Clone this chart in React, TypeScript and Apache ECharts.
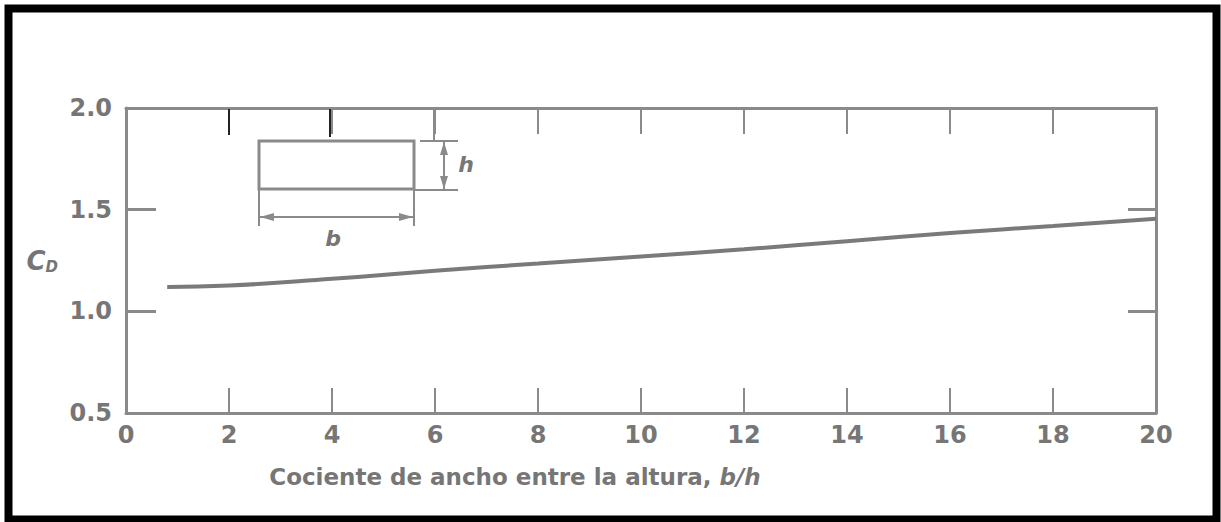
import React, { useEffect, useRef } from "react";
import * as echarts from "echarts";

const ratioBH: number[] = [0.8, 2, 4, 6, 8, 10, 12, 14, 16, 18, 20];
const cdValues: number[] = [1.12, 1.127, 1.16, 1.2, 1.235, 1.27, 1.305, 1.345, 1.385, 1.42, 1.455];
const xTicks: number[] = [0, 2, 4, 6, 8, 10, 12, 14, 16, 18, 20];
const yTicks: number[] = [0.5, 1.0, 1.5, 2.0];

const AX = "#8a8a8a";
const TXT = "#767676";
const FONT = "DejaVu Sans";

export default function App() {
  const ref = useRef<HTMLDivElement>(null);
  useEffect(() => {
    if (!ref.current) return;
    const chart = echarts.init(ref.current, null, { renderer: "svg" });
    const data = ratioBH.map((x, i) => [x, cdValues[i]]);
    const axisLine = { show: true, onZero: false, lineStyle: { color: AX, width: 3 } };
    chart.setOption({
      animation: false,
      backgroundColor: "#ffffff",
      grid: { left: 126, right: 65, top: 108, bottom: 109 },
      xAxis: [
        {
          type: "value",
          position: "bottom",
          min: xTicks[0],
          max: xTicks[xTicks.length - 1],
          interval: 2,
          axisLine,
          axisTick: { show: true, inside: true, length: 25, lineStyle: { color: AX, width: 2 } },
          axisLabel: { color: TXT, fontSize: 24, fontFamily: FONT, fontWeight: "bold", margin: 10 },
          splitLine: { show: false },
          name: "{t|Cociente de ancho entre la altura, }{i|b/h}",
          nameLocation: "middle",
          nameGap: 52,
          nameTextStyle: {
            padding: [0, 252, 0, 0],
            rich: {
              t: { color: TXT, fontSize: 23, fontFamily: FONT, fontWeight: "bold" },
              i: { color: TXT, fontSize: 23, fontFamily: FONT, fontStyle: "italic", fontWeight: "bold" },
            },
          },
        },
        {
          type: "value",
          position: "top",
          min: xTicks[0],
          max: xTicks[xTicks.length - 1],
          interval: 2,
          axisLine,
          axisTick: { show: true, inside: true, length: 26, lineStyle: { color: AX, width: 2 } },
          axisLabel: { show: false },
          splitLine: { show: false },
        },
      ],
      yAxis: [
        {
          type: "value",
          position: "left",
          min: yTicks[0],
          max: yTicks[yTicks.length - 1],
          interval: 0.5,
          axisLine,
          axisTick: { show: true, inside: true, length: 30, lineStyle: { color: AX, width: 3 } },
          axisLabel: {
            color: TXT,
            fontSize: 24,
            fontFamily: FONT,
            fontWeight: "bold",
            margin: 14,
            formatter: (v: number) => v.toFixed(1),
          },
          splitLine: { show: false },
          name: "{c|C}{d|D}",
          nameLocation: "middle",
          nameRotate: 0,
          nameGap: 68,
          nameTextStyle: {
            rich: {
              c: { color: TXT, fontSize: 26, fontFamily: FONT, fontStyle: "italic", fontWeight: "bold" },
              d: { color: TXT, fontSize: 15, fontFamily: FONT, fontStyle: "italic", fontWeight: "bold", padding: [12, 0, 0, 0] },
            },
          },
        },
        {
          type: "value",
          position: "right",
          min: yTicks[0],
          max: yTicks[yTicks.length - 1],
          interval: 0.5,
          axisLine,
          axisTick: { show: true, inside: true, length: 28, lineStyle: { color: AX, width: 3 } },
          axisLabel: { show: false },
          splitLine: { show: false },
        },
      ],
      series: [
        {
          type: "line",
          data,
          smooth: 0.5,
          symbol: "none",
          lineStyle: { color: "#7a7a7a", width: 4 },
          xAxisIndex: 0,
          yAxisIndex: 0,
        },
      ],
      graphic: [
        {
          type: "rect",
          z: 100,
          shape: { x: 8.5, y: 8.5, width: 1208, height: 511 },
          style: { fill: "none", stroke: "#000", lineWidth: 8 },
          silent: true,
        },
        // inset rectangle
        {
          type: "rect",
          z: 100,
          shape: { x: 259, y: 141, width: 155, height: 48 },
          style: { fill: "none", stroke: AX, lineWidth: 3 },
        },
        // b dimension
        { type: "line", z: 100, shape: { x1: 259, y1: 189, x2: 259, y2: 226 }, style: { stroke: AX, lineWidth: 2 } },
        { type: "line", z: 100, shape: { x1: 414, y1: 189, x2: 414, y2: 226 }, style: { stroke: AX, lineWidth: 2 } },
        { type: "line", z: 100, shape: { x1: 260, y1: 217, x2: 413, y2: 217 }, style: { stroke: AX, lineWidth: 2 } },
        { type: "polygon", z: 100, shape: { points: [[260, 217], [274, 213], [274, 221]] }, style: { fill: AX } },
        { type: "polygon", z: 100, shape: { points: [[413, 217], [399, 213], [399, 221]] }, style: { fill: AX } },
        {
          type: "text",
          z: 100,
          x: 333,
          y: 238,
          style: { text: "b", fill: TXT, font: "italic bold 22px DejaVu Sans", align: "center", verticalAlign: "middle" },
        },
        // h dimension
        { type: "line", z: 100, shape: { x1: 420, y1: 141, x2: 458, y2: 141 }, style: { stroke: AX, lineWidth: 2 } },
        { type: "line", z: 100, shape: { x1: 414, y1: 190, x2: 458, y2: 190 }, style: { stroke: AX, lineWidth: 2 } },
        { type: "line", z: 100, shape: { x1: 444, y1: 142, x2: 444, y2: 189 }, style: { stroke: AX, lineWidth: 2 } },
        { type: "polygon", z: 100, shape: { points: [[444, 142], [440, 155], [448, 155]] }, style: { fill: AX } },
        { type: "polygon", z: 100, shape: { points: [[444, 189], [440, 176], [448, 176]] }, style: { fill: AX } },
        { type: "line", z: 100, shape: { x1: 434, y1: 110, x2: 434, y2: 141 }, style: { stroke: AX, lineWidth: 2 } },
        {
          type: "text",
          z: 100,
          x: 466,
          y: 164,
          style: { text: "h", fill: TXT, font: "italic bold 22px DejaVu Sans", align: "center", verticalAlign: "middle" },
        },
        // darker top ticks
        { type: "line", z: 100, shape: { x1: 229, y1: 109, x2: 229, y2: 135 }, style: { stroke: "#222", lineWidth: 2 } },
        { type: "line", z: 100, shape: { x1: 330, y1: 109, x2: 330, y2: 137 }, style: { stroke: "#222", lineWidth: 2 } },
      ],
    });
    return () => chart.dispose();
  }, []);
  return (
    <div
      ref={ref}
      style={{ position: "absolute", left: 0, top: 0, width: 1221, height: 522 }}
    />
  );
}
